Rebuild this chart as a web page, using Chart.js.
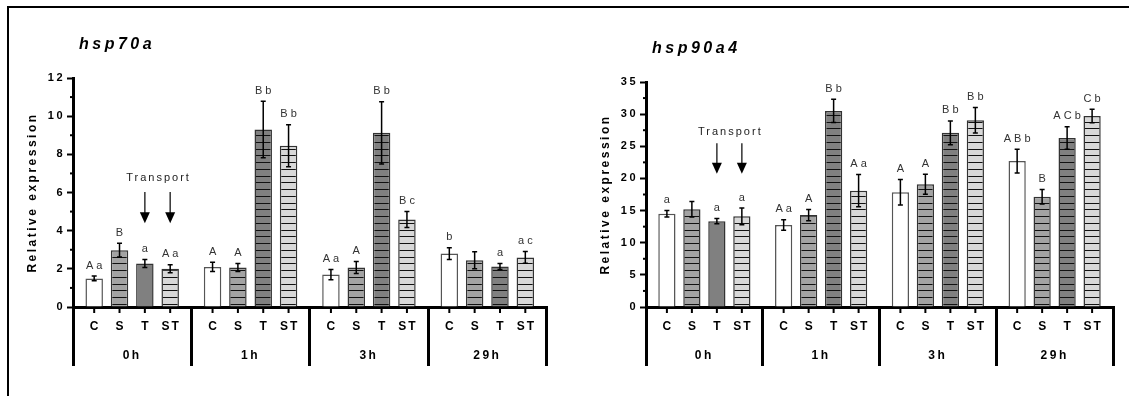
<!DOCTYPE html>
<html>
<head>
<meta charset="utf-8">
<script src="https://cdn.jsdelivr.net/npm/chart.js@4.4.1/dist/chart.umd.min.js"></script>
<style>
  body { margin: 0; background: #fff; }
  #wrap { position: relative; width: 1129px; height: 396px; overflow: hidden; }
  #frame { position: absolute; left: 7px; top: 6px; width: 1200px; height: 500px;
           border-top: 2px solid #000; border-left: 2px solid #000; }
  #c1 { position: absolute; left: 0; top: 0; }
  #c2 { position: absolute; left: 573px; top: 0; }
</style>
</head>
<body>
<div id="wrap">
  <div id="frame"></div>
  <canvas id="c1" width="573" height="396"></canvas>
  <canvas id="c2" width="556" height="396"></canvas>
</div>
<script>
const groups = ['0h', '1h', '3h', '29h'];
const treatments = ['C', 'S', 'T', 'ST'];

// hsp70a
const hsp70C = [1.50, 2.10, 1.70, 2.80];
const hsp70S = [2.98, 2.07, 2.07, 2.45];
const hsp70T = [2.28, 9.30, 9.13, 2.12];
const hsp70ST = [2.00, 8.45, 4.58, 2.60];
const hsp70CErr = [0.12, 0.24, 0.27, 0.31];
const hsp70SErr = [0.36, 0.21, 0.31, 0.45];
const hsp70TErr = [0.21, 1.48, 1.63, 0.16];
const hsp70STErr = [0.21, 1.10, 0.42, 0.31];
const hsp70CSig = ['A a', 'A', 'A a', 'b'];
const hsp70SSig = ['B', 'A', 'A', ''];
const hsp70TSig = ['a', 'B b', 'B b', 'a'];
const hsp70STSig = ['A a', 'B b', 'B c', 'a c'];

// hsp90a4
const hsp90C = [14.5, 12.75, 17.85, 22.7];
const hsp90S = [15.2, 14.3, 19.1, 17.15];
const hsp90T = [13.35, 30.5, 27.1, 26.3];
const hsp90ST = [14.1, 18.1, 29.05, 29.7];
const hsp90CErr = [0.5, 0.82, 2.0, 1.85];
const hsp90SErr = [1.2, 0.88, 1.55, 1.12];
const hsp90TErr = [0.4, 1.8, 1.85, 1.75];
const hsp90STErr = [1.3, 2.5, 2.0, 1.05];
const hsp90CSig = ['a', 'A a', 'A', 'A B b'];
const hsp90SSig = ['', 'A', 'A', 'B'];
const hsp90TSig = ['a', 'B b', 'B b', 'A C b'];
const hsp90STSig = ['a', 'A a', 'B b', 'C b'];

Chart.defaults.font.family = "'Liberation Sans', Arial, sans-serif";
Chart.defaults.color = '#000';

function stripes(ctx, fill) {
  const p = document.createElement('canvas');
  p.width = 8; p.height = 27;
  const g = p.getContext('2d');
  g.fillStyle = fill;
  g.fillRect(0, 0, 8, 27);
  g.fillStyle = '#111';
  [0, 7, 14, 20].forEach(r => g.fillRect(0, r, 8, 1));
  return ctx.createPattern(p, 'repeat');
}

const extras = {
  id: 'extras',
  beforeDraw(chart) {
    chart.ctx.letterSpacing = '2.5px';
  },
  afterDatasetsDraw(chart, args, opts) {
    const ctx = chart.ctx;
    const y = chart.scales.y;
    const area = chart.chartArea;
    ctx.save();
    ctx.strokeStyle = '#000';
    ctx.fillStyle = '#000';

    // minor ticks on the y axis
    ctx.lineWidth = 2;
    for (let v = opts.minor; v < y.max; v += opts.minor * 2) {
      const py = y.getPixelForValue(v);
      ctx.beginPath();
      ctx.moveTo(area.left - 3, py);
      ctx.lineTo(area.left, py);
      ctx.stroke();
    }

    chart.data.datasets.forEach((ds, di) => {
      const meta = chart.getDatasetMeta(di);
      meta.data.forEach((bar, i) => {
        const v = ds.data[i];
        const e = opts.errors[di][i];
        const yt = y.getPixelForValue(v + e);
        const yb = y.getPixelForValue(v - e);
        ctx.lineWidth = 1.5;
        ctx.strokeStyle = '#000';
        ctx.beginPath();
        ctx.moveTo(bar.x, yt); ctx.lineTo(bar.x, yb);
        ctx.moveTo(bar.x - 2.5, yt); ctx.lineTo(bar.x + 2.5, yt);
        ctx.moveTo(bar.x - 2.5, yb); ctx.lineTo(bar.x + 2.5, yb);
        ctx.stroke();

        // significance letters
        ctx.letterSpacing = '0px';
        ctx.font = "11px 'Liberation Sans', Arial, sans-serif";
        ctx.fillStyle = '#333';
        ctx.textAlign = 'center';
        ctx.textBaseline = 'alphabetic';
        ctx.fillText(opts.sig[di][i], bar.x, yt - 7.5);

        // tick under each bar
        ctx.lineWidth = 2;
        ctx.beginPath();
        ctx.moveTo(bar.x, area.bottom);
        ctx.lineTo(bar.x, area.bottom + 6);
        ctx.stroke();

        // treatment label
        ctx.letterSpacing = '2px';
        ctx.font = "bold 12px 'Liberation Sans', Arial, sans-serif";
        ctx.fillStyle = '#000';
        ctx.textBaseline = 'middle';
        ctx.fillText(treatments[di], bar.x + 1, area.bottom + 20);
      });
    });

    // Transport arrows
    const tr = opts.transport;
    const xs = tr.bars.map(d => chart.getDatasetMeta(d).data[0].x);
    ctx.letterSpacing = '2px';
    ctx.font = "11px 'Liberation Sans', Arial, sans-serif";
    ctx.fillStyle = '#222';
    ctx.textAlign = 'center';
    ctx.textBaseline = 'middle';
    ctx.fillText('Transport', (xs[0] + xs[1]) / 2 + 1, y.getPixelForValue(tr.text));
    xs.forEach(x => {
      const top = y.getPixelForValue(tr.top);
      const tip = y.getPixelForValue(tr.tip);
      ctx.strokeStyle = '#333';
      ctx.lineWidth = 1.5;
      ctx.beginPath();
      ctx.moveTo(x, top); ctx.lineTo(x, tip - 8);
      ctx.stroke();
      ctx.fillStyle = '#000';
      ctx.beginPath();
      ctx.moveTo(x - 5, tip - 11);
      ctx.lineTo(x + 5, tip - 11);
      ctx.lineTo(x, tip);
      ctx.closePath();
      ctx.fill();
    });

    // gene title
    ctx.letterSpacing = '3.5px';
    ctx.font = "italic bold 16px 'Liberation Sans', Arial, sans-serif";
    ctx.textAlign = 'left';
    ctx.textBaseline = 'alphabetic';
    ctx.fillStyle = '#000';
    ctx.fillText(opts.title, area.left + 6, area.top - 29.5);
    ctx.restore();
  }
};

function makeChart(id, title, values, errors, sig, yMax, yStep, minor, transport, padTop, padRight) {
  const ctx = document.getElementById(id).getContext('2d');
  const fills = [
    '#ffffff',
    stripes(ctx, '#a3a3a3'),
    groups.map((g, i) => i === 0 ? '#808080' : stripes(ctx, '#808080')),
    stripes(ctx, '#d8d8d8')
  ];
  const borders = ['#555', '#333', '#333', '#333'];
  return new Chart(ctx, {
    type: 'bar',
    data: {
      labels: groups,
      datasets: treatments.map((t, di) => ({
        label: t,
        data: values[di],
        backgroundColor: fills[di],
        borderColor: borders[di],
        borderWidth: 1.5,
        categoryPercentage: 0.856,
        barPercentage: 0.69
      }))
    },
    options: {
      responsive: false,
      animation: false,
      layout: { padding: { top: padTop, right: padRight, left: 0, bottom: 0 } },
      plugins: {
        legend: { display: false },
        tooltip: { enabled: false },
        extras: { errors, sig, minor, transport, title }
      },
      scales: {
        x: {
          afterFit: s => { s.height = 89; },
          border: { width: 3, color: '#000' },
          grid: { offset: true, drawOnChartArea: false, tickLength: 59, lineWidth: 3, color: '#000' },
          ticks: { padding: -18, font: { size: 12, weight: 'bold' }, color: '#000' }
        },
        y: {
          min: 0,
          max: yMax,
          afterFit: s => { s.width = 73; },
          border: { width: 3, color: '#000' },
          grid: { drawOnChartArea: false, tickLength: 6, tickWidth: 2, tickColor: '#000' },
          ticks: { stepSize: yStep, padding: 2, font: { size: 11, weight: 'bold' }, color: '#000' },
          title: {
            display: true,
            text: 'Relative expression',
            font: { size: 12, weight: 'bold' },
            color: '#000',
            padding: { top: 25, bottom: 0 }
          }
        }
      }
    },
    plugins: [extras]
  });
}

makeChart('c1', 'hsp70a',
  [hsp70C, hsp70S, hsp70T, hsp70ST],
  [hsp70CErr, hsp70SErr, hsp70TErr, hsp70STErr],
  [hsp70CSig, hsp70SSig, hsp70TSig, hsp70STSig],
  12, 2, 1,
  { bars: [2, 3], text: 6.76, top: 6.03, tip: 4.39 },
  78, 26.5);

makeChart('c2', 'hsp90a4',
  [hsp90C, hsp90S, hsp90T, hsp90ST],
  [hsp90CErr, hsp90SErr, hsp90TErr, hsp90STErr],
  [hsp90CSig, hsp90SSig, hsp90TSig, hsp90STSig],
  35, 5, 2.5,
  { bars: [2, 3], text: 27.23, top: 25.48, tip: 20.71 },
  82, 16);
</script>
</body>
</html>
